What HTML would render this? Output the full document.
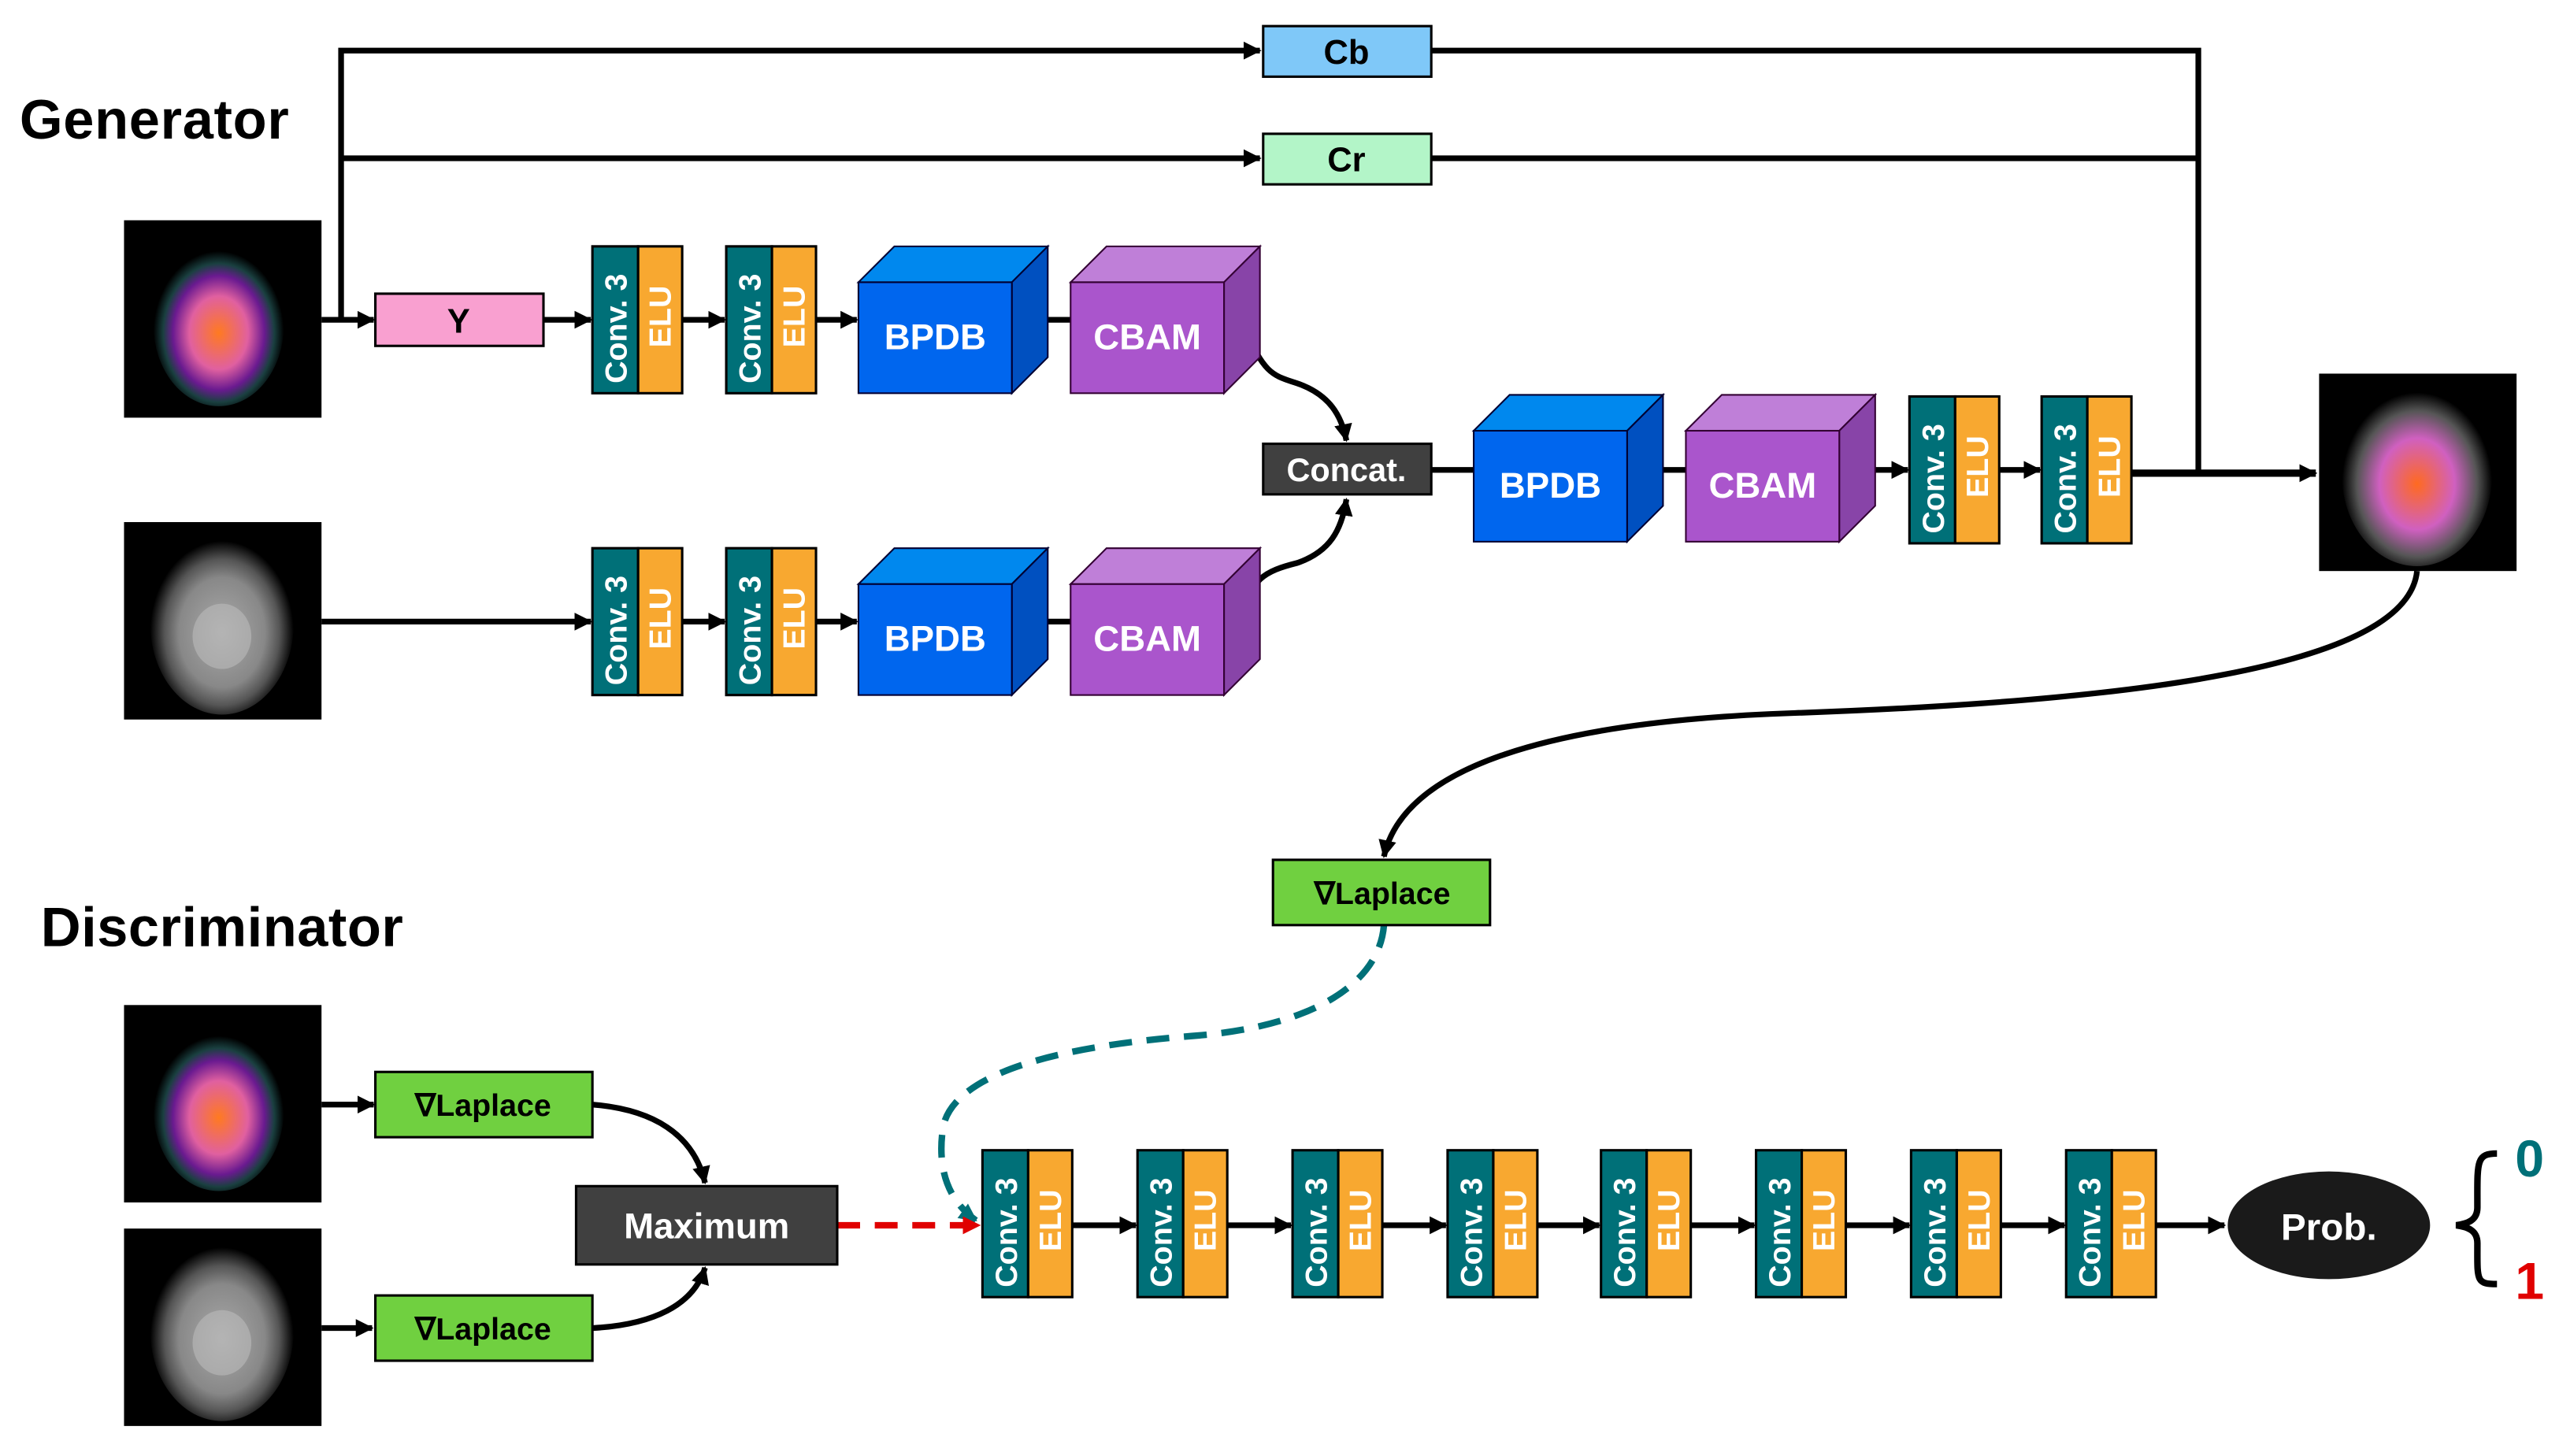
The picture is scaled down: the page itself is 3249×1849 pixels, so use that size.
<!DOCTYPE html>
<html><head><meta charset="utf-8"><style>
html,body{margin:0;padding:0;background:#fff}
svg{display:block}
text{font-family:"Liberation Sans",Arial,sans-serif;font-weight:bold}
</style></head><body>
<svg width="3249" height="1849" viewBox="0 0 1568 892.4" preserveAspectRatio="none" xmlns="http://www.w3.org/2000/svg">
<defs>
<marker id="a" markerWidth="11" markerHeight="11" refX="10" refY="5.5" orient="auto" markerUnits="userSpaceOnUse"><path d="M0,0 L11,5.5 L0,11 Z" fill="#000"/></marker>
<marker id="at" markerWidth="11" markerHeight="11" refX="10" refY="5.5" orient="auto" markerUnits="userSpaceOnUse"><path d="M0,0 L11,5.5 L0,11 Z" fill="#007078"/></marker>
<marker id="ar" markerWidth="11" markerHeight="11" refX="10" refY="5.5" orient="auto" markerUnits="userSpaceOnUse"><path d="M0,0 L11,5.5 L0,11 Z" fill="#e00000"/></marker>
<radialGradient id="pet" cx="50%" cy="55%" r="50%"><stop offset="0" stop-color="#ff7a20"/><stop offset="0.45" stop-color="#e060a0"/><stop offset="0.7" stop-color="#6a1a90"/><stop offset="0.85" stop-color="#1a4040"/><stop offset="1" stop-color="#000"/></radialGradient>
<radialGradient id="mri" cx="50%" cy="55%" r="50%"><stop offset="0" stop-color="#aaa"/><stop offset="0.6" stop-color="#888"/><stop offset="0.8" stop-color="#555"/><stop offset="1" stop-color="#000"/></radialGradient>
<radialGradient id="fus" cx="50%" cy="55%" r="50%"><stop offset="0" stop-color="#ff6a20"/><stop offset="0.5" stop-color="#d060c0"/><stop offset="0.8" stop-color="#555"/><stop offset="1" stop-color="#000"/></radialGradient>
<g id="conv">
<rect x="0" y="0" width="28" height="90" fill="#007078" stroke="#000" stroke-width="1.5"/>
<rect x="28" y="0" width="27" height="90" fill="#f8a830" stroke="#000" stroke-width="1.5"/>
<text transform="translate(21,84) rotate(-90)" font-size="19" fill="#fff">Conv. 3</text>
<text transform="translate(48,62) rotate(-90)" font-size="19" fill="#fff">ELU</text>
</g>
<g id="bpdb">
<polygon points="0,22 22,0 116,0 94,22" fill="#0088ee" stroke="#003" stroke-width="1"/>
<polygon points="94,22 116,0 116,68 94,90" fill="#0050c0" stroke="#003" stroke-width="1"/>
<rect x="0" y="22" width="94" height="68" fill="#0066ee" stroke="#003" stroke-width="1"/>
<text x="47" y="63" font-size="22" fill="#fff" text-anchor="middle">BPDB</text>
</g>
<g id="cbam">
<polygon points="0,22 22,0 116,0 94,22" fill="#bf7fd8" stroke="#303" stroke-width="1"/>
<polygon points="94,22 116,0 116,68 94,90" fill="#8844a8" stroke="#303" stroke-width="1"/>
<rect x="0" y="22" width="94" height="68" fill="#aa55cc" stroke="#303" stroke-width="1"/>
<text x="47" y="63" font-size="22" fill="#fff" text-anchor="middle">CBAM</text>
</g>
<g id="petimg"><rect width="121" height="121" fill="#000"/><ellipse cx="58" cy="64" rx="40" ry="50" fill="url(#pet)"/></g>
<g id="mriimg"><rect width="121" height="121" fill="#000"/><ellipse cx="60" cy="62" rx="44" ry="56" fill="url(#mri)"/><ellipse cx="60" cy="70" rx="18" ry="20" fill="#bbb" opacity="0.6"/></g>
</defs>

<text x="12" y="85" font-size="34" fill="#000" textLength="165">Generator</text>
<text x="25" y="580" font-size="34" fill="#000" textLength="222">Discriminator</text>

<g stroke="#000" stroke-width="3.5" fill="none">
<polyline points="209,196 209,31 772,31" marker-end="url(#a)"/>
<line x1="209" y1="97" x2="772" y2="97" marker-end="url(#a)"/>
<polyline points="877,31 1347,31 1347,290"/>
<line x1="877" y1="97" x2="1347" y2="97"/>
<line x1="197" y1="196" x2="229" y2="196" marker-end="url(#a)"/>
<line x1="333" y1="196" x2="362" y2="196" marker-end="url(#a)"/>
<line x1="418" y1="196" x2="444" y2="196" marker-end="url(#a)"/>
<line x1="499" y1="196" x2="525" y2="196" marker-end="url(#a)"/>
<line x1="620" y1="196" x2="656" y2="196"/>
<line x1="197" y1="381" x2="362" y2="381" marker-end="url(#a)"/>
<line x1="418" y1="381" x2="444" y2="381" marker-end="url(#a)"/>
<line x1="499" y1="381" x2="525" y2="381" marker-end="url(#a)"/>
<line x1="620" y1="381" x2="656" y2="381"/>
<path d="M762,200 C775,230 780,230 795,235 C815,242 822,255 825,270" marker-end="url(#a)"/>
<path d="M762,380 C765,355 775,350 795,345 C815,338 822,325 825,306" marker-end="url(#a)"/>
<line x1="877" y1="288" x2="903" y2="288"/>
<line x1="996" y1="288" x2="1033" y2="288"/>
<line x1="1140" y1="288" x2="1169" y2="288" marker-end="url(#a)"/>
<line x1="1225" y1="288" x2="1250" y2="288" marker-end="url(#a)"/>
<line x1="1306" y1="290" x2="1419" y2="290" stroke-width="4.5" marker-end="url(#a)"/>
<path d="M1481,350 C1475,410 1300,430 1100,437 C950,442 860,470 848,525" marker-end="url(#a)"/>
<line x1="197" y1="677" x2="229" y2="677" marker-end="url(#a)"/>
<line x1="197" y1="814" x2="228" y2="814" marker-end="url(#a)"/>
<path d="M363,677 C400,680 425,695 432,725" marker-end="url(#a)"/>
<path d="M363,814 C400,812 425,800 432,777" marker-end="url(#a)"/>
<line x1="657" y1="751" x2="696" y2="751" marker-end="url(#a)"/>
<line x1="752" y1="751" x2="791" y2="751" marker-end="url(#a)"/>
<line x1="847" y1="751" x2="886" y2="751" marker-end="url(#a)"/>
<line x1="942" y1="751" x2="980" y2="751" marker-end="url(#a)"/>
<line x1="1036" y1="751" x2="1075" y2="751" marker-end="url(#a)"/>
<line x1="1131" y1="751" x2="1170" y2="751" marker-end="url(#a)"/>
<line x1="1226" y1="751" x2="1265" y2="751" marker-end="url(#a)"/>
<line x1="1321" y1="751" x2="1363" y2="751" marker-end="url(#a)"/>
<path d="M1530,707 C1517,707 1518,712 1518,740 C1518,748 1512,750 1505,751 C1512,752 1518,754 1518,762 C1518,785 1517,787 1530,787" stroke-width="4"/>
</g>
<path d="M848,567 C845,605 800,630 730,635 C640,642 585,660 578,690 C574,715 580,735 598,748" stroke="#007078" stroke-width="4" fill="none" stroke-dasharray="14,9" marker-end="url(#at)"/>
<line x1="513" y1="751" x2="600" y2="751" stroke="#e00000" stroke-width="4" stroke-dasharray="14,9" marker-end="url(#ar)"/>

<use href="#petimg" x="76" y="135"/>
<use href="#mriimg" x="76" y="320"/>
<use href="#petimg" x="76" y="616"/>
<use href="#mriimg" x="76" y="753"/>
<g transform="translate(1421,229)"><rect width="121" height="121" fill="#000"/><ellipse cx="60" cy="62" rx="46" ry="56" fill="url(#fus)"/></g>

<rect x="774" y="16" width="103" height="31" fill="#7fc8f8" stroke="#000" stroke-width="1.5"/>
<text x="825" y="39" font-size="21" text-anchor="middle">Cb</text>
<rect x="774" y="82" width="103" height="31" fill="#b3f5c8" stroke="#000" stroke-width="1.5"/>
<text x="825" y="105" font-size="21" text-anchor="middle">Cr</text>
<rect x="230" y="180" width="103" height="32" fill="#f9a0d0" stroke="#000" stroke-width="1.5"/>
<text x="281" y="204" font-size="21" text-anchor="middle">Y</text>
<rect x="774" y="272" width="103" height="31" fill="#404040" stroke="#000" stroke-width="1.5"/>
<text x="825" y="295" font-size="20" fill="#fff" text-anchor="middle">Concat.</text>

<use href="#conv" x="363" y="151"/>
<use href="#conv" x="445" y="151"/>
<use href="#bpdb" x="526" y="151"/>
<use href="#cbam" x="656" y="151"/>
<use href="#conv" x="363" y="336"/>
<use href="#conv" x="445" y="336"/>
<use href="#bpdb" x="526" y="336"/>
<use href="#cbam" x="656" y="336"/>
<use href="#bpdb" x="903" y="242"/>
<use href="#cbam" x="1033" y="242"/>
<use href="#conv" x="1170" y="243"/>
<use href="#conv" x="1251" y="243"/>

<rect x="780" y="527" width="133" height="40" fill="#70d040" stroke="#000" stroke-width="1.5"/>
<text x="847" y="554" font-size="19" text-anchor="middle">∇Laplace</text>
<rect x="230" y="657" width="133" height="40" fill="#70d040" stroke="#000" stroke-width="1.5"/>
<text x="296" y="684" font-size="19" text-anchor="middle">∇Laplace</text>
<rect x="230" y="794" width="133" height="40" fill="#70d040" stroke="#000" stroke-width="1.5"/>
<text x="296" y="821" font-size="19" text-anchor="middle">∇Laplace</text>
<rect x="353" y="727" width="160" height="48" fill="#404040" stroke="#000" stroke-width="1.5"/>
<text x="433" y="759" font-size="22" fill="#fff" text-anchor="middle">Maximum</text>

<use href="#conv" x="602" y="705"/>
<use href="#conv" x="697" y="705"/>
<use href="#conv" x="792" y="705"/>
<use href="#conv" x="887" y="705"/>
<use href="#conv" x="981" y="705"/>
<use href="#conv" x="1076" y="705"/>
<use href="#conv" x="1171" y="705"/>
<use href="#conv" x="1266" y="705"/>

<ellipse cx="1427" cy="751" rx="62" ry="33" fill="#1a1a1a"/>
<text x="1427" y="760" font-size="23" fill="#fff" text-anchor="middle">Prob.</text>
<text x="1550" y="721" font-size="32" fill="#007078" text-anchor="middle">0</text>
<text x="1550" y="796" font-size="32" fill="#e00000" text-anchor="middle">1</text>
</svg>
</body></html>
